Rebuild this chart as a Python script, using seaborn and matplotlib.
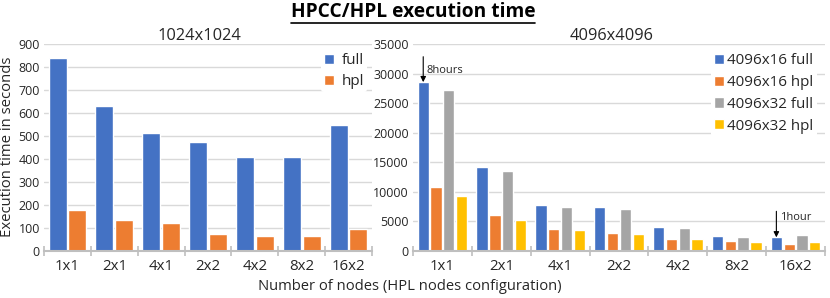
import matplotlib
matplotlib.use("Agg")
import matplotlib.pyplot as plt
import seaborn as sns
import pandas as pd
import numpy as np
from matplotlib.lines import Line2D

configs = ["1x1", "2x1", "4x1", "2x2", "4x2", "8x2", "16x2"]

small_full = [837, 631, 512, 475, 408, 408, 547]
small_hpl = [178, 134, 122, 74, 67, 67, 96]

big_16_full = [28550, 14280, 7730, 7390, 4010, 2540, 2310]
big_16_hpl = [10780, 6100, 3780, 2990, 2030, 1640, 1130]
big_32_full = [27140, 13540, 7450, 7050, 3840, 2370, 2650]
big_32_hpl = [9260, 5250, 3560, 2880, 1980, 1520, 1470]

small_series = ["full", "hpl"]
big_series = ["4096x16 full", "4096x16 hpl", "4096x32 full", "4096x32 hpl"]

BLUE, ORANGE, GRAY, GOLD = "#4472C4", "#ED7D31", "#A5A5A5", "#FFC000"

sns.set_theme(style="white")
plt.rcParams["font.family"] = ["Open Sans", "DejaVu Sans"]

df_small = pd.DataFrame({
    "config": configs * 2,
    "series": [small_series[0]] * 7 + [small_series[1]] * 7,
    "value": small_full + small_hpl,
})
df_big = pd.DataFrame({
    "config": configs * 4,
    "series": sum([[s] * 7 for s in big_series], []),
    "value": big_16_full + big_16_hpl + big_32_full + big_32_hpl,
})

W, H = 830, 298
fig = plt.figure(figsize=(W / 100, H / 100), dpi=100)
ax1 = fig.add_axes([44 / W, 47 / H, 328 / W, 207 / H])
ax2 = fig.add_axes([413 / W, 47 / H, 412 / W, 207 / H])

sns.barplot(data=df_small, x="config", y="value", hue="series", order=configs,
            hue_order=small_series, palette=[BLUE, ORANGE], width=0.84, gap=0.08,
            saturation=1, ax=ax1)
sns.barplot(data=df_big, x="config", y="value", hue="series", order=configs,
            hue_order=big_series, palette=[BLUE, ORANGE, GRAY, GOLD], width=0.87,
            gap=0.12, saturation=1, ax=ax2)

for ax, top, step in [(ax1, 900, 100), (ax2, 35000, 5000)]:
    ax.set_ylim(0, top)
    ax.set_yticks(np.arange(0, top + 1, step))
    ax.set_xlim(-0.5, 6.5)
    ax.grid(axis="y", color="#d9d9d9", linewidth=1)
    ax.set_axisbelow(True)
    for s in ["left", "right", "top"]:
        ax.spines[s].set_visible(False)
    ax.spines["bottom"].set_color("#bfbfbf")
    ax.spines["bottom"].set_linewidth(1.5)
    ax.set_xticks(np.arange(-0.5, 7, 1), minor=True)
    ax.tick_params(axis="x", which="minor", direction="inout", length=7,
                   width=1.2, color="#bfbfbf", bottom=True)
    ax.tick_params(axis="x", which="major", length=0, labelsize=10.8, pad=6,
                   labelcolor="#262626")
    ax.tick_params(axis="y", length=0, labelsize=9, pad=3, labelcolor="#262626")
    ax.set_xlabel("")
    ax.set_ylabel("")

fig.text(199 / W, 1 - 36 / H, "1024x1024", fontsize=11.8, ha="center", va="center",
         color="#262626")
fig.text(612 / W, 1 - 36 / H, "4096x4096", fontsize=11.8, ha="center", va="center",
         color="#262626")

h1, l1 = ax1.get_legend_handles_labels()
ax1.legend(h1, l1, loc="upper right", bbox_to_anchor=(0.985, 0.97), fontsize=11,
           frameon=True, facecolor="white", edgecolor="none", framealpha=1,
           handlelength=0.65, handleheight=0.65, handletextpad=0.5,
           labelspacing=0.4, borderpad=0.2, borderaxespad=0)
h2, l2 = ax2.get_legend_handles_labels()
ax2.legend(h2, l2, loc="upper right", bbox_to_anchor=(0.98, 0.97), fontsize=10.9,
           frameon=True, facecolor="white", edgecolor="none", framealpha=1,
           handlelength=0.65, handleheight=0.65, handletextpad=0.25,
           labelspacing=0.45, borderpad=0.2, borderaxespad=0)

# annotations
x_off = -0.5 + 0.065 + 0.87 / 8
ax2.annotate("", xy=(x_off, big_16_full[0]), xytext=(x_off, big_16_full[0] + 4300),
             arrowprops=dict(arrowstyle="-|>", color="black", lw=0.8,
                             mutation_scale=8, shrinkA=0, shrinkB=0))
ax2.text(x_off + 0.06, big_16_full[0] + 2000, "8hours", fontsize=8, va="center",
         color="#262626")
ax2.annotate("", xy=(6 + x_off, big_16_full[6]),
             xytext=(6 + x_off, big_16_full[6] + 4400),
             arrowprops=dict(arrowstyle="-|>", color="black", lw=0.8,
                             mutation_scale=8, shrinkA=0, shrinkB=0))
ax2.text(6 + x_off + 0.06, big_16_full[6] + 3400, "1hour", fontsize=8, va="center",
         color="#262626")

fig.text(8 / W, 1 - 147 / H, "Execution time in seconds", rotation=90, fontsize=10.7,
         va="center", ha="center", color="#262626")
fig.text(410 / W, 1 - 287 / H, "Number of nodes (HPL nodes configuration)",
         fontsize=10.6, ha="center", va="center", color="#262626")

title = fig.text(413 / W, 1 - 12 / H, "HPCC/HPL execution time", fontsize=13.8,
                 fontweight="bold", ha="center", va="center", color="black")
fig.canvas.draw()
bb = title.get_window_extent(fig.canvas.get_renderer())
yline = (bb.y0 - 1) / H
fig.add_artist(Line2D([bb.x0 / W, bb.x1 / W], [yline, yline], color="black",
                      lw=1.2, transform=fig.transFigure))

fig.savefig("out.png", dpi=100)
